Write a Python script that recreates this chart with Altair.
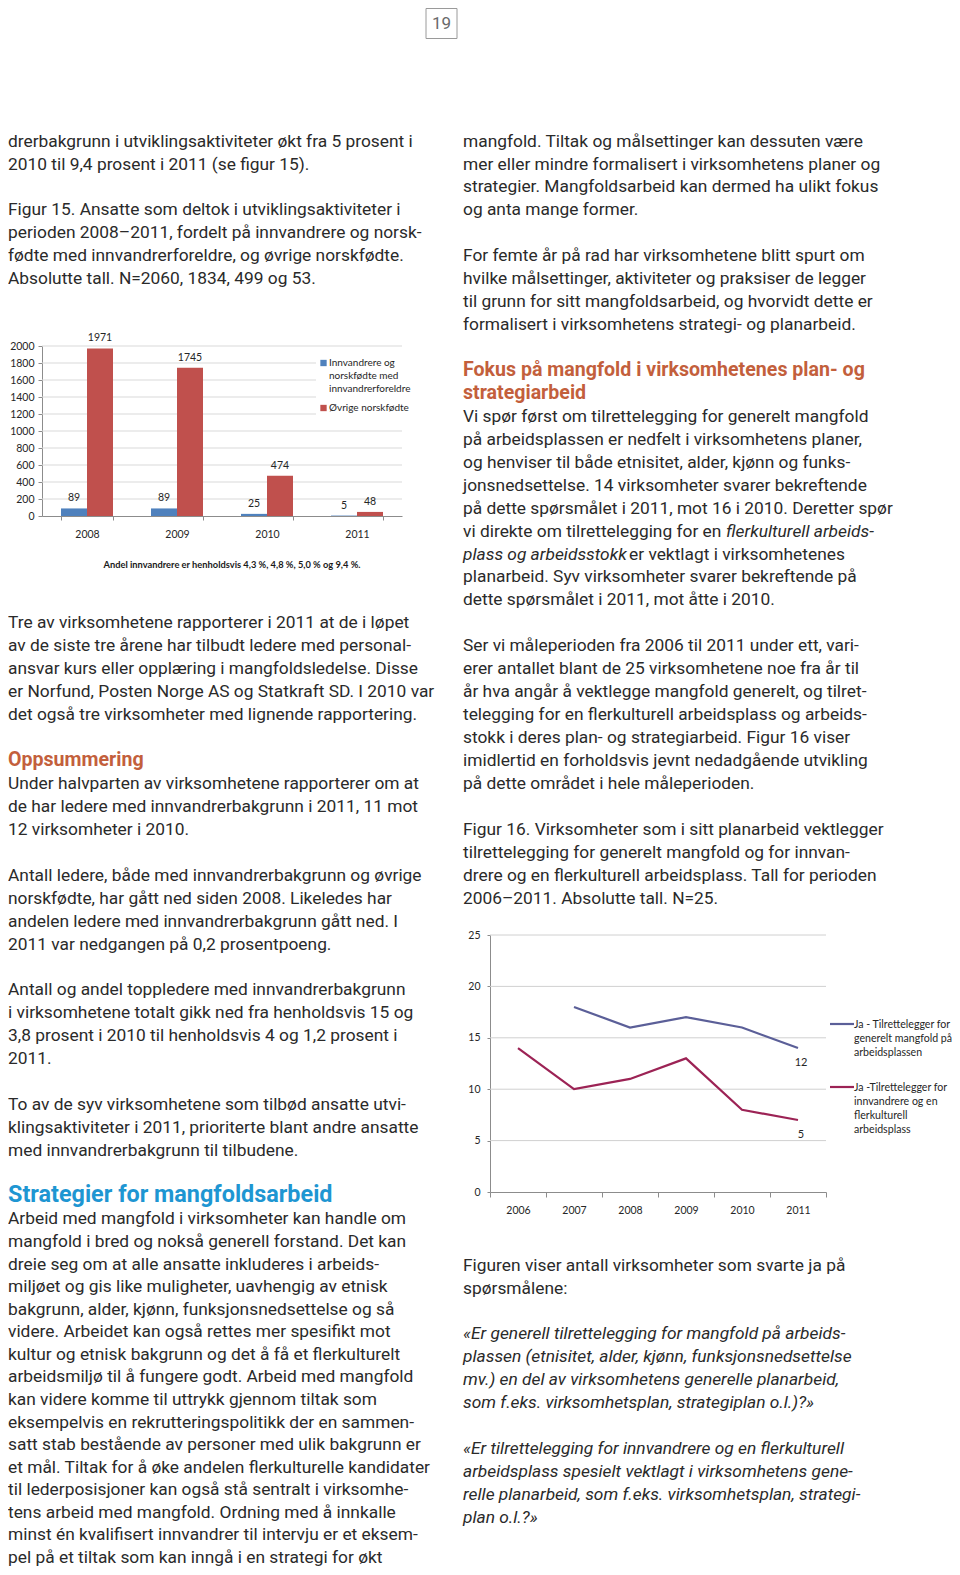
import altair as alt
import pandas as pd

W, H = 944, 1559

# ---------------- page text (line index k on the text grid, style, text) ----------------
left_lines = [
    (0, "b", "drerbakgrunn i utviklingsaktiviteter økt fra 5 prosent i"),
    (1, "b", "2010 til 9,4 prosent i 2011 (se figur 15)."),
    (3, "b", "Figur 15. Ansatte som deltok i utviklingsaktiviteter i"),
    (4, "b", "perioden 2008–2011, fordelt på innvandrere og norsk-"),
    (5, "b", "fødte med innvandrerforeldre, og øvrige norskfødte."),
    (6, "b", "Absolutte tall. N=2060, 1834, 499 og 53."),
    (21, "b", "Tre av virksomhetene rapporterer i 2011 at de i løpet"),
    (22, "b", "av de siste tre årene har tilbudt ledere med personal-"),
    (23, "b", "ansvar kurs eller opplæring i mangfoldsledelse. Disse"),
    (24, "b", "er Norfund, Posten Norge AS og Statkraft SD. I 2010 var"),
    (25, "b", "det også tre virksomheter med lignende rapportering."),
    (27, "hr", "Oppsummering"),
    (28, "b", "Under halvparten av virksomhetene rapporterer om at"),
    (29, "b", "de har ledere med innvandrerbakgrunn i 2011, 11 mot"),
    (30, "b", "12 virksomheter i 2010."),
    (32, "b", "Antall ledere, både med innvandrerbakgrunn og øvrige"),
    (33, "b", "norskfødte, har gått ned siden 2008. Likeledes har"),
    (34, "b", "andelen ledere med innvandrerbakgrunn gått ned. I"),
    (35, "b", "2011 var nedgangen på 0,2 prosentpoeng."),
    (37, "b", "Antall og andel toppledere med innvandrerbakgrunn"),
    (38, "b", "i virksomhetene totalt gikk ned fra henholdsvis 15 og"),
    (39, "b", "3,8 prosent i 2010 til henholdsvis 4 og 1,2 prosent i"),
    (40, "b", "2011."),
    (42, "b", "To av de syv virksomhetene som tilbød ansatte utvi-"),
    (43, "b", "klingsaktiviteter i 2011, prioriterte blant andre ansatte"),
    (44, "b", "med innvandrerbakgrunn til tilbudene."),
    (46, "hb", "Strategier for mangfoldsarbeid"),
    (47, "b", "Arbeid med mangfold i virksomheter kan handle om"),
    (48, "b", "mangfold i bred og nokså generell forstand. Det kan"),
    (49, "b", "dreie seg om at alle ansatte inkluderes i arbeids-"),
    (50, "b", "miljøet og gis like muligheter, uavhengig av etnisk"),
    (51, "b", "bakgrunn, alder, kjønn, funksjonsnedsettelse og så"),
    (52, "b", "videre. Arbeidet kan også rettes mer spesifikt mot"),
    (53, "b", "kultur og etnisk bakgrunn og det å få et flerkulturelt"),
    (54, "b", "arbeidsmiljø til å fungere godt. Arbeid med mangfold"),
    (55, "b", "kan videre komme til uttrykk gjennom tiltak som"),
    (56, "b", "eksempelvis en rekrutteringspolitikk der en sammen-"),
    (57, "b", "satt stab bestående av personer med ulik bakgrunn er"),
    (58, "b", "et mål. Tiltak for å øke andelen flerkulturelle kandidater"),
    (59, "b", "til lederposisjoner kan også stå sentralt i virksomhe-"),
    (60, "b", "tens arbeid med mangfold. Ordning med å innkalle"),
    (61, "b", "minst én kvalifisert innvandrer til intervju er et eksem-"),
    (62, "b", "pel på et tiltak som kan inngå i en strategi for økt"),
]

right_lines = [
    (0, "b", "mangfold. Tiltak og målsettinger kan dessuten være"),
    (1, "b", "mer eller mindre formalisert i virksomhetens planer og"),
    (2, "b", "strategier. Mangfoldsarbeid kan dermed ha ulikt fokus"),
    (3, "b", "og anta mange former."),
    (5, "b", "For femte år på rad har virksomhetene blitt spurt om"),
    (6, "b", "hvilke målsettinger, aktiviteter og praksiser de legger"),
    (7, "b", "til grunn for sitt mangfoldsarbeid, og hvorvidt dette er"),
    (8, "b", "formalisert i virksomhetens strategi- og planarbeid."),
    (10, "hr", "Fokus på mangfold i virksomhetenes plan- og"),
    (11, "hr", "strategiarbeid"),
    (12, "b", "Vi spør først om tilrettelegging for generelt mangfold"),
    (13, "b", "på arbeidsplassen er nedfelt i virksomhetens planer,"),
    (14, "b", "og henviser til både etnisitet, alder, kjønn og funks-"),
    (15, "b", "jonsnedsettelse. 14 virksomheter svarer bekreftende"),
    (16, "b", "på dette spørsmålet i 2011, mot 16 i 2010. Deretter spør"),
    (17, "b", "vi direkte om tilrettelegging for en"),
    (19, "b", "planarbeid. Syv virksomheter svarer bekreftende på"),
    (20, "b", "dette spørsmålet i 2011, mot åtte i 2010."),
    (22, "b", "Ser vi måleperioden fra 2006 til 2011 under ett, vari-"),
    (23, "b", "erer antallet blant de 25 virksomhetene noe fra år til"),
    (24, "b", "år hva angår å vektlegge mangfold generelt, og tilret-"),
    (25, "b", "telegging for en flerkulturell arbeidsplass og arbeids-"),
    (26, "b", "stokk i deres plan- og strategiarbeid. Figur 16 viser"),
    (27, "b", "imidlertid en forholdsvis jevnt nedadgående utvikling"),
    (28, "b", "på dette området i hele måleperioden."),
    (30, "b", "Figur 16. Virksomheter som i sitt planarbeid vektlegger"),
    (31, "b", "tilrettelegging for generelt mangfold og for innvan-"),
    (32, "b", "drere og en flerkulturell arbeidsplass. Tall for perioden"),
    (33, "b", "2006–2011. Absolutte tall. N=25."),
    (49, "b", "Figuren viser antall virksomheter som svarte ja på"),
    (50, "b", "spørsmålene:"),
    (52, "i", "«Er generell tilrettelegging for mangfold på arbeids-"),
    (53, "i", "plassen (etnisitet, alder, kjønn, funksjonsnedsettelse"),
    (54, "i", "mv.) en del av virksomhetens generelle planarbeid,"),
    (55, "i", "som f.eks. virksomhetsplan, strategiplan o.l.)?»"),
    (57, "i", "«Er tilrettelegging for innvandrere og en flerkulturell"),
    (58, "i", "arbeidsplass spesielt vektlagt i virksomhetens gene-"),
    (59, "i", "relle planarbeid, som f.eks. virksomhetsplan, strategi-"),
    (60, "i", "plan o.l.?»"),
]

# lines that mix regular and italic type (k, style, horizontal start inside the column, text)
mixed_lines = [
    (17, "i", 263, "flerkulturell arbeids-"),
    (18, "i", 0, "plass og arbeidsstokk"),
    (18, "b", 166, "er vektlagt i virksomhetenes"),
]

page_number = "19"

# ---------------- figure 15 data ----------------
years15 = ["2008", "2009", "2010", "2011"]
series15 = ["Innvandrere og norskfødte med innvandrerforeldre", "Øvrige norskfødte"]
innvandrere15 = [89, 89, 25, 5]
ovrige15 = [1971, 1745, 474, 48]
ticks15 = [0, 200, 400, 600, 800, 1000, 1200, 1400, 1600, 1800, 2000]
legend15 = [["Innvandrere og", "norskfødte med", "innvandrerforeldre"], ["Øvrige norskfødte"]]
caption15 = "Andel innvandrere er henholdsvis 4,3 %, 4,8 %, 5,0 % og 9,4 %."
colors15 = ["#4f81bd", "#c0504d"]

# ---------------- figure 16 data ----------------
years16 = ["2006", "2007", "2008", "2009", "2010", "2011"]
series16 = ["Ja - Tilrettelegger for generelt mangfold på arbeidsplassen",
            "Ja -Tilrettelegger for innvandrere og en flerkulturell arbeidsplass"]
generelt16 = [None, 18, 16, 17, 16, 14]
flerkulturell16 = [14, 10, 11, 13, 8, 7]
end_labels16 = ["12", "5"]
ticks16 = [0, 5, 10, 15, 20, 25]
legend16 = [["Ja - Tilrettelegger for", "generelt mangfold på", "arbeidsplassen"],
            ["Ja -Tilrettelegger for", "innvandrere og en", "flerkulturell", "arbeidsplass"]]
colors16 = ["#5b5f98", "#9c2355"]

# ---------------- layout constants ----------------
LEFT_X, RIGHT_X = 0, 455
Y0, STEP = 138.6, 22.94
SQUEEZE_FROM, LAST_BASELINE = 46, 1555.0   # last left paragraph must end inside the page
BODY_FONT = "Roboto"
BODY_SIZE = 17.35
TEXT_COLOR = "#2a2a2a"
RED_HEAD = "#c35f3c"
BLUE_HEAD = "#1e96d2"
CHART_FONT = "Lato"

# bar chart frame
B_X0, B_X1 = 34, 394
B_Y0, B_Y1 = 508, 338
# line chart frame
L_X0, L_X1 = 482, 818
L_Y0, L_Y1 = 1184, 927


def line_y(k, col):
    if col == "left" and k > SQUEEZE_FROM:
        y_from = Y0 + STEP * SQUEEZE_FROM
        step = (LAST_BASELINE - y_from) / (62 - SQUEEZE_FROM)
        return y_from + step * (k - SQUEEZE_FROM)
    return Y0 + STEP * k


# ---------------- text table ----------------
rows = []
for k, st, t in left_lines:
    rows.append(dict(x=LEFT_X, y=line_y(k, "left"), style=st, text=t))
for k, st, t in right_lines:
    rows.append(dict(x=RIGHT_X, y=line_y(k, "right"), style=st, text=t))
for k, st, dx, t in mixed_lines:
    rows.append(dict(x=RIGHT_X + dx, y=line_y(k, "right"), style=st, text=t))
text_df = pd.DataFrame(rows)
text_df["fs"] = 19.6
text_df.loc[text_df["style"] == "hb", "fs"] = 23.4
text_df["col"] = RED_HEAD
text_df.loc[text_df["style"] == "hb", "col"] = BLUE_HEAD

XN = alt.X("x:Q", scale=None, axis=None)
YN = alt.Y("y:Q", scale=None, axis=None)

body = alt.Chart(text_df[text_df["style"] == "b"]).mark_text(
    align="left", baseline="alphabetic", font=BODY_FONT, fontSize=BODY_SIZE, color=TEXT_COLOR
).encode(x=XN, y=YN, text="text:N")

italic = alt.Chart(text_df[text_df["style"] == "i"]).mark_text(
    align="left", baseline="alphabetic", font=BODY_FONT, fontSize=BODY_SIZE,
    fontStyle="italic", color=TEXT_COLOR
).encode(x=XN, y=YN, text="text:N")

heads = alt.Chart(text_df[text_df["style"].isin(["hr", "hb"])]).mark_text(
    align="left", baseline="alphabetic", font=BODY_FONT, fontWeight="bold"
).encode(x=XN, y=YN, text="text:N",
         size=alt.Size("fs:Q", scale=None, legend=None),
         color=alt.Color("col:N", scale=None, legend=None))

# page number box
pn_df = pd.DataFrame({"t": [page_number]})
pn_box = alt.Chart(pn_df).mark_rect(fill="white", stroke="#9a9a9a", strokeWidth=1).encode(
    x=alt.value(418), x2=alt.value(449), y=alt.value(0.5), y2=alt.value(30.5))
pn_text = alt.Chart(pn_df).mark_text(font=BODY_FONT, fontSize=17, color="#6a6a6a",
                                     baseline="middle", align="center").encode(
    x=alt.value(433.5), y=alt.value(16), text="t:N")

# ---------------- figure 15 ----------------
bar_df = pd.DataFrame({
    "year": years15 * 2,
    "series": [series15[0]] * 4 + [series15[1]] * 4,
    "value": innvandrere15 + ovrige15,
})
bx_scale = alt.Scale(domain=years15, range=[B_X0, B_X1], paddingInner=38 / 90, paddingOuter=19 / 90)
by_scale = alt.Scale(domain=[0, 2000], range=[B_Y0, B_Y1], nice=False)
bxo = alt.XOffset("series:N", scale=alt.Scale(domain=series15))

grid15 = alt.Chart(pd.DataFrame({"v": ticks15[1:]})).mark_rule(color="#d9d9d9", strokeWidth=1).encode(
    y=alt.Y("v:Q", scale=by_scale, axis=None), x=alt.value(B_X0), x2=alt.value(B_X1))

legend_bg15 = alt.Chart(pn_df).mark_rect(fill="white").encode(
    x=alt.value(308), x2=alt.value(398), y=alt.value(343), y2=alt.value(411))

bars = alt.Chart(bar_df).mark_bar().encode(
    x=alt.X("year:N", scale=bx_scale, title=None,
            axis=alt.Axis(orient="bottom", offset=-(H - B_Y0), labelAngle=0, grid=False,
                          tickBand="extent", tickSize=4, labelPadding=9,
                          domainColor="#8c8c8c", tickColor="#8c8c8c",
                          labelFont=CHART_FONT, labelFontSize=10.5, labelColor="#262626")),
    xOffset=bxo,
    y=alt.Y("value:Q", scale=by_scale, title=None,
            axis=alt.Axis(orient="left", offset=-B_X0, values=ticks15, grid=False, format="d",
                          tickSize=4, labelPadding=4, domainColor="#8c8c8c", tickColor="#8c8c8c",
                          labelFont=CHART_FONT, labelFontSize=10.5, labelColor="#262626")),
    color=alt.Color("series:N", scale=alt.Scale(domain=series15, range=colors15), legend=None),
)

bar_labels = alt.Chart(bar_df).mark_text(
    baseline="alphabetic", dy=-7, font=CHART_FONT, fontSize=10.5, color="#262626"
).encode(
    x=alt.X("year:N", scale=bx_scale, axis=None),
    xOffset=bxo,
    y=alt.Y("value:Q", scale=by_scale, axis=None),
    text="value:Q",
)

sq_rows, lt_rows = [], []
for i, (name, lns) in enumerate(zip(series15, legend15)):
    sy = 355 + 45 * i
    sq_rows.append(dict(series=name, x=315.5, y=sy))
    for j, ln in enumerate(lns):
        lt_rows.append(dict(x=321, y=sy + 13 * j, text=ln))
leg15_sq = alt.Chart(pd.DataFrame(sq_rows)).mark_square(size=40, opacity=1).encode(
    x=XN, y=YN,
    color=alt.Color("series:N", scale=alt.Scale(domain=series15, range=colors15), legend=None))
leg15_txt = alt.Chart(pd.DataFrame(lt_rows)).mark_text(
    align="left", baseline="middle", font=CHART_FONT, fontSize=10, color="#262626"
).encode(x=XN, y=YN, text="text:N")

cap15 = alt.Chart(pd.DataFrame({"t": [caption15]})).mark_text(
    font=CHART_FONT, fontSize=9.3, fontWeight="bold", color="#1a1a1a", align="center", baseline="middle"
).encode(x=alt.value(224), y=alt.value(557), text="t:N")

# ---------------- figure 16 ----------------
line_rows = []
for yr, v in zip(years16, generelt16):
    if v is not None:
        line_rows.append(dict(year=yr, series=series16[0], value=v))
for yr, v in zip(years16, flerkulturell16):
    line_rows.append(dict(year=yr, series=series16[1], value=v))
line_df = pd.DataFrame(line_rows)

lx_scale = alt.Scale(type="band", domain=years16, range=[L_X0, L_X1], paddingInner=0, paddingOuter=0)
ly_scale = alt.Scale(domain=[0, 25], range=[L_Y0, L_Y1], nice=False)
lc_scale = alt.Scale(domain=series16, range=colors16)

grid16 = alt.Chart(pd.DataFrame({"v": ticks16[1:]})).mark_rule(color="#d0d0d0", strokeWidth=1).encode(
    y=alt.Y("v:Q", scale=ly_scale, axis=None), x=alt.value(L_X0), x2=alt.value(L_X1))

lines = alt.Chart(line_df).mark_line(strokeWidth=2.2).encode(
    x=alt.X("year:N", scale=lx_scale, bandPosition=0.5, title=None, sort=years16,
            axis=alt.Axis(orient="bottom", offset=-(H - L_Y0), labelAngle=0, grid=False,
                          tickBand="extent", tickSize=5, labelPadding=8,
                          domainColor="#8c8c8c", tickColor="#8c8c8c",
                          labelFont=CHART_FONT, labelFontSize=10.5, labelColor="#262626")),
    y=alt.Y("value:Q", scale=ly_scale, title=None,
            axis=alt.Axis(orient="left", offset=-L_X0, values=ticks16, grid=False,
                          tickSize=3, labelPadding=7, domainColor="#8c8c8c", tickColor="#8c8c8c",
                          labelFont=CHART_FONT, labelFontSize=10.5, labelColor="#262626")),
    color=alt.Color("series:N", scale=lc_scale, legend=None),
    detail="series:N",
)

end_df = pd.DataFrame({
    "year": [years16[-1], years16[-1]],
    "value": [generelt16[-1], flerkulturell16[-1]],
    "label": end_labels16,
})
end_text = alt.Chart(end_df).mark_text(
    baseline="middle", dy=15, dx=3, font=CHART_FONT, fontSize=11, color="#262626"
).encode(
    x=alt.X("year:N", scale=lx_scale, bandPosition=0.5, axis=None),
    y=alt.Y("value:Q", scale=ly_scale, axis=None),
    text="label:N",
)

leg16_layers = []
lt16 = []
for i, (name, lns) in enumerate(zip(series16, legend16)):
    ly = 1016 + 63 * i
    leg16_layers.append(
        alt.Chart(pd.DataFrame({"series": [name]})).mark_rule(strokeWidth=2.2).encode(
            x=alt.value(822), x2=alt.value(846), y=alt.value(ly),
            color=alt.Color("series:N", scale=lc_scale, legend=None)))
    for j, ln in enumerate(lns):
        lt16.append(dict(x=846, y=ly + 1 + 14 * j, text=ln))
leg16_txt = alt.Chart(pd.DataFrame(lt16)).mark_text(
    align="left", baseline="middle", font=CHART_FONT, fontSize=10.6, color="#262626"
).encode(x=XN, y=YN, text="text:N")

chart = alt.layer(
    pn_box, pn_text, body, italic, heads,
    grid15, legend_bg15, bars, bar_labels, leg15_sq, leg15_txt, cap15,
    grid16, lines, end_text, *leg16_layers, leg16_txt,
).resolve_scale(
    x="independent", y="independent", color="independent"
).properties(
    width=W, height=H, padding=0,
    autosize=alt.AutoSizeParams(type="none"),
).configure(background="white").configure_view(strokeWidth=0)

chart.save("out.html", embed_options={"renderer": "svg", "actions": False})
